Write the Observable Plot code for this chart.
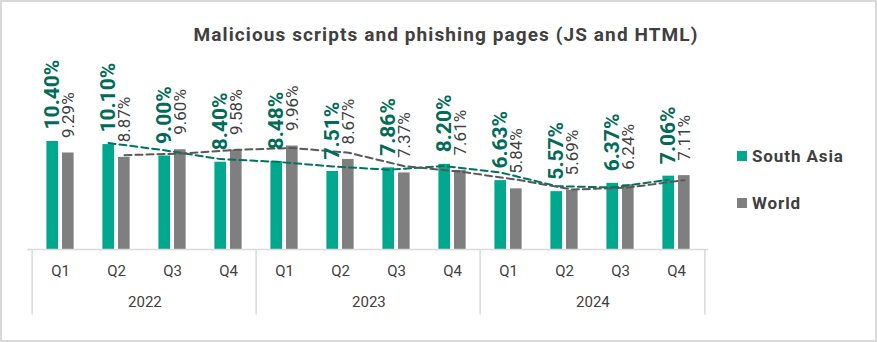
<!DOCTYPE html>
<html>
<head>
<meta charset="utf-8">
<script src="https://cdn.jsdelivr.net/npm/d3@7"></script>
<script src="https://cdn.jsdelivr.net/npm/@observablehq/plot@0.6"></script>
<style>
  html, body { margin: 0; padding: 0; background: #fff; }
  #wrap { position: relative; width: 877px; height: 342px; overflow: hidden; font-family: Roboto, "Noto Sans", sans-serif; }
  #frame { position: absolute; left: 0; top: 0; width: 877px; height: 342px; box-sizing: border-box; border: 2px solid #d9d9d9; pointer-events: none; }
  #chart { position: absolute; left: 0; top: 0; }
  #title { position: absolute; left: 446px; top: 24px; transform: translateX(-50%); white-space: nowrap; font-weight: bold; font-size: 19px; letter-spacing: 1.1px; color: #404040; line-height: 22px; }
  .lg { position: absolute; left: 737px; display: flex; align-items: center; font-weight: bold; font-size: 17px; letter-spacing: 0.9px; color: #404040; white-space: nowrap; }
  .lg span.sw { display: inline-block; width: 10px; height: 10px; margin-right: 5px; }
</style>
</head>
<body>
<div id="wrap">
  <div id="chart"></div>
  <div id="title">Malicious scripts and phishing pages (JS and HTML)</div>
  <div class="lg" style="top:146px"><span class="sw" style="background:#00a88e"></span>South Asia</div>
  <div class="lg" style="top:193px"><span class="sw" style="background:#7f7f7f"></span>World</div>
  <div id="frame"></div>
</div>
<script>
const years = ["2022", "2023", "2024"];
const quarters = ["Q1", "Q2", "Q3", "Q4"];
const southAsia = [10.40, 10.10, 9.00, 8.40, 8.48, 7.51, 7.86, 8.20, 6.63, 5.57, 6.37, 7.06];
const world = [9.29, 8.87, 9.60, 9.58, 9.96, 8.67, 7.37, 7.61, 5.84, 5.69, 6.24, 7.11];

const rows = [];
years.forEach((y, yi) => quarters.forEach((q, qi) => {
  const i = yi * 4 + qi;
  rows.push({key: y + "-" + q, year: y, q, sa: southAsia[i], world: world[i]});
}));
const keys = rows.map(d => d.key);
const fmt = v => d3.format(".2f")(v) + "%";
const half = 681 / 12 / 2;

const chart = Plot.plot({
  width: 877,
  height: 342,
  marginLeft: 27,
  marginRight: 169,
  marginTop: 62,
  marginBottom: 93,
  style: {fontFamily: "Roboto, 'Noto Sans', sans-serif", background: "transparent"},
  x: {type: "band", domain: keys, padding: 0, axis: null},
  y: {domain: [0, 18], axis: null},
  marks: [
    Plot.barY(rows, {x: "key", y: "sa", fill: "#00a88e", insetLeft: 14.4, insetRight: 30})
    , Plot.barY(rows, {x: "key", y: "world", fill: "#7f7f7f", insetLeft: 30, insetRight: 14.4})
    , Plot.lineY(rows, Plot.windowY({k: 2, anchor: "end", reduce: "mean", strict: true},
        {x: "key", y: "sa", dx: -8, stroke: "#00735e", strokeWidth: 2, strokeDasharray: "7,4"}))
    , Plot.lineY(rows, Plot.windowY({k: 2, anchor: "end", reduce: "mean", strict: true},
        {x: "key", y: "world", dx: 8, stroke: "#595959", strokeWidth: 2, strokeDasharray: "7,4"}))
    , Plot.text(rows, {x: "key", y: "sa", text: d => fmt(d.sa), rotate: -90, textAnchor: "start",
        dx: -8, dy: -12, fill: "#006b58", fontWeight: "bold", fontSize: 21})
    , Plot.text(rows, {x: "key", y: "world", text: d => fmt(d.world), rotate: -90, textAnchor: "start",
        dx: 8, dy: -15, fill: "#404040", fontSize: 17})
    , Plot.ruleY([0], {stroke: "#d9d9d9", strokeWidth: 1.5})
    , Plot.ruleX(["2022-Q1", "2023-Q1", "2024-Q1"], {x: d => d, dx: -half, y1: 0, y2: -6.3, stroke: "#d9d9d9", strokeWidth: 1.5})
    , Plot.ruleX(["2024-Q4"], {x: d => d, dx: half, y1: 0, y2: -6.3, stroke: "#d9d9d9", strokeWidth: 1.5})
    , Plot.text(rows, {x: "key", text: "q", frameAnchor: "bottom", dy: 26, fontSize: 15, fill: "#404040"})
    , Plot.text(years, {x: d => d + "-Q2", text: d => d, dx: half, frameAnchor: "bottom", dy: 57, fontSize: 15, fill: "#404040"})
  ]
});
document.getElementById("chart").appendChild(chart);
</script>
</body>
</html>
